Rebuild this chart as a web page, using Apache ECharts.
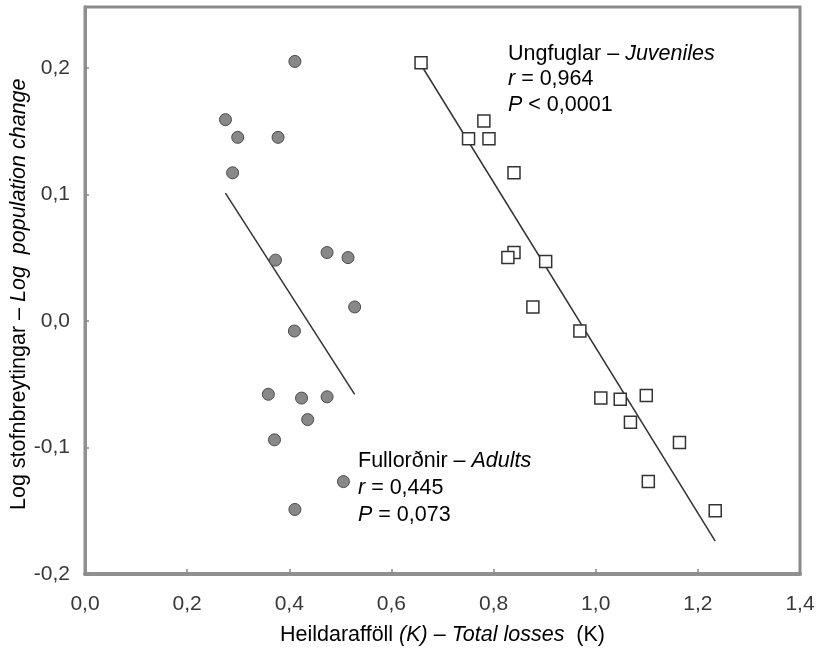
<!DOCTYPE html>
<html>
<head>
<meta charset="utf-8">
<style>
    html, body { margin: 0; padding: 0; background: #fff; }
    #chart { width: 818px; height: 656px; }
</style>
<script src="https://cdn.jsdelivr.net/npm/echarts@6/dist/echarts.min.js"></script>
</head>
<body>
<div id="chart"></div>
<script>
// Fullorðnir – Adults: [K, log change]
const adults = [
    [0.411, 0.205], [0.275, 0.159], [0.299, 0.145], [0.378, 0.145],
    [0.289, 0.117], [0.474, 0.054], [0.515, 0.050], [0.373, 0.048],
    [0.528, 0.011], [0.410, -0.008], [0.359, -0.058], [0.424, -0.061],
    [0.474, -0.060], [0.436, -0.078], [0.371, -0.094], [0.506, -0.127],
    [0.411, -0.149]
];
// Ungfuglar – Juveniles
const juveniles = [
    [0.658, 0.204], [0.781, 0.158], [0.751, 0.144], [0.791, 0.144],
    [0.840, 0.117], [0.840, 0.054], [0.828, 0.050], [0.902, 0.047],
    [0.877, 0.011], [0.969, -0.008], [1.010, -0.061], [1.048, -0.062],
    [1.099, -0.059], [1.068, -0.080], [1.164, -0.096], [1.103, -0.127],
    [1.234, -0.150]
];
// regression lines (end points)
const adultFit = [[0.275, 0.101], [0.528, -0.058]];
const juvenileFit = [[0.660, 0.201], [1.234, -0.174]];

const xTicks = [0, 0.2, 0.4, 0.6, 0.8, 1.0, 1.2, 1.4];
const yTicks = [-0.2, -0.1, 0, 0.1, 0.2];

const font = '"Liberation Sans", Arial, sans-serif';
const textColor = '#383838';

function comma(v) {
    return v.toFixed(1).replace('.', ',');
}

function rich(size, lh) {
    return {
        n: { fontFamily: font, fontSize: size, color: textColor, lineHeight: lh },
        i: { fontFamily: font, fontSize: size, color: textColor, lineHeight: lh, fontStyle: 'italic' }
    };
}

let myChart = echarts.init(document.getElementById('chart'));

let option = {
    backgroundColor: '#fff',
    animation: false,
    grid: {
        left: 85,
        right: 18,
        top: 7,
        bottom: 82,
        show: true,
        borderColor: '#8a8a8a',
        borderWidth: 3,
        backgroundColor: 'transparent'
    },
    xAxis: {
        type: 'value',
        min: xTicks[0],
        max: xTicks[xTicks.length - 1],
        interval: 0.2,
        splitLine: { show: false },
        axisLine: { onZero: false, lineStyle: { color: '#909090', width: 4 } },
        axisTick: { inside: true, length: 5, lineStyle: { color: '#888', width: 1.5 } },
        axisLabel: {
            margin: 20,
            fontFamily: font,
            fontSize: 21,
            color: textColor,
            formatter: function (v) { return comma(v); }
        }
    },
    yAxis: {
        type: 'value',
        min: yTicks[0],
        max: 0.248,
        interval: 0.1,
        splitLine: { show: false },
        axisLine: { onZero: false, lineStyle: { color: '#909090', width: 3 } },
        axisTick: { inside: true, length: 4, lineStyle: { color: '#888', width: 1.5 } },
        axisLabel: {
            margin: 15,
            fontFamily: font,
            fontSize: 21,
            color: textColor,
            showMaxLabel: false,
            formatter: function (v) {
                if (Math.abs(v * 10 - Math.round(v * 10)) > 1e-6) return '';
                return comma(v);
            }
        }
    },
    graphic: [
        {
            type: 'text',
            left: 280,
            top: 624,
            style: {
                rich: rich(21.5, 22),
                text: '{n|Heildarafföll }{i|(K)}{n| – }{i|Total losses}{n|  (K)}'
            }
        },
        {
            type: 'text',
            x: 8,
            y: 510,
            rotation: Math.PI / 2,
            style: {
                rich: rich(21.5, 22),
                text: '{n|Log stofnbreytingar – }{i|Log  population change}'
            }
        },
        {
            type: 'text',
            left: 508,
            top: 43,
            style: {
                rich: rich(21.5, 25.5),
                text: '{n|Ungfuglar – }{i|Juveniles}\n{i|r}{n| = 0,964}\n{i|P}{n| < 0,0001}'
            }
        },
        {
            type: 'text',
            left: 358,
            top: 450,
            style: {
                rich: rich(21.5, 27),
                text: '{n|Fullorðnir – }{i|Adults}\n{i|r}{n| = 0,445}\n{i|P}{n| = 0,073}'
            }
        }
    ],
    series: [
        {
            name: 'Adults fit',
            type: 'line',
            data: adultFit,
            symbol: 'none',
            lineStyle: { color: '#333', width: 1.5 },
            z: 2
        },
        {
            name: 'Juveniles fit',
            type: 'line',
            data: juvenileFit,
            symbol: 'none',
            lineStyle: { color: '#333', width: 1.5 },
            z: 2
        },
        {
            name: 'Adults',
            type: 'scatter',
            data: adults,
            symbol: 'circle',
            symbolSize: 12,
            itemStyle: { color: '#888', borderColor: '#4a4a4a', borderWidth: 1, opacity: 1 },
            z: 3
        },
        {
            name: 'Juveniles',
            type: 'scatter',
            data: juveniles,
            symbol: 'rect',
            symbolSize: 12,
            itemStyle: { color: '#fff', borderColor: '#333', borderWidth: 1.5, opacity: 1 },
            z: 3
        }
    ]
};

myChart.setOption(option);
window.addEventListener('resize', function () {
    myChart.resize();
});
</script>
</body>
</html>
